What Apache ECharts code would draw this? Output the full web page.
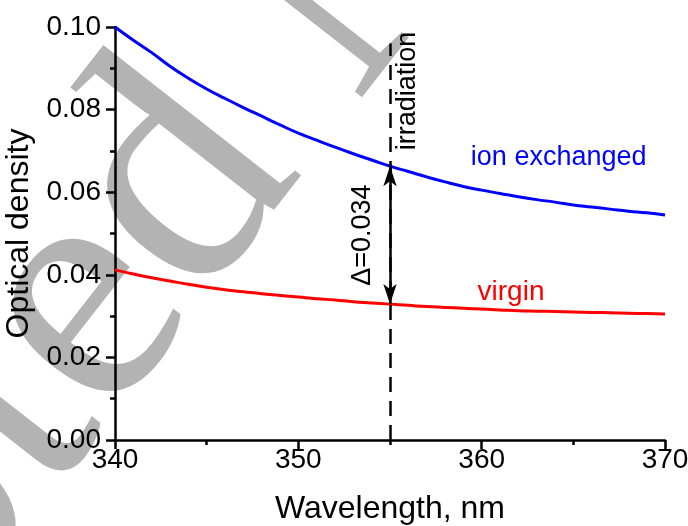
<!DOCTYPE html>
<html>
<head>
    <meta charset="utf-8">
    <title>Optical density</title>
    <script src="https://cdn.jsdelivr.net/npm/echarts@6/dist/echarts.min.js"></script>
    <style>
        html, body { margin: 0; padding: 0; background: #fff; }
        #chart { width: 688px; height: 526px; }
    </style>
</head>
<body>
<div id="chart"></div>
<script>
    // wavelength, nm
    var wavelength = [340, 341, 342, 343, 344, 345, 346, 347, 348, 349, 350,
        351, 352, 353, 354, 355, 356, 357, 358, 359, 360,
        361, 362, 363, 364, 365, 366, 367, 368, 369, 370];
    // ion exchanged (blue)
    var ionExchanged = [0.1000, 0.0968, 0.0938, 0.0905, 0.0876, 0.0850, 0.0827, 0.0805, 0.0784, 0.0763, 0.0743,
        0.0726, 0.0709, 0.0693, 0.0678, 0.0663, 0.0650, 0.0637, 0.0625, 0.0614, 0.0605,
        0.0597, 0.0589, 0.0582, 0.0576, 0.0569, 0.0564, 0.0559, 0.0554, 0.0550, 0.0545];
    // virgin (red)
    var virgin = [0.0412, 0.0402, 0.0393, 0.0385, 0.0377, 0.0370, 0.0364, 0.0359, 0.0354, 0.0350, 0.0346,
        0.0342, 0.0339, 0.0335, 0.0332, 0.0329, 0.0326, 0.0323, 0.0321, 0.0319, 0.0317,
        0.0315, 0.0313, 0.0312, 0.0311, 0.0310, 0.0309, 0.0308, 0.0307, 0.0306, 0.0305];
    var irradiationAt = 355;
    var deltaTop = 0.0663;
    var deltaBottom = 0.0329;

    function pairs(xs, ys) {
        var out = [];
        for (var i = 0; i < xs.length; i++) {
            out.push([xs[i], ys[i]]);
        }
        return out;
    }

    var myChart = echarts.init(document.getElementById('chart'));
    var font = 'Arial, "Liberation Sans", sans-serif';

    var option = {
        animation: false,
        grid: {left: 115, right: 23, top: 27, bottom: 86, outerBoundsMode: 'none', containLabel: false},
        xAxis: {
            type: 'value',
            min: 340,
            max: 370,
            interval: 10,
            name: 'Wavelength, nm',
            nameLocation: 'middle',
            nameGap: 53,
            nameTextStyle: {fontSize: 32, color: '#000', fontFamily: font},
            axisLine: {lineStyle: {color: '#000', width: 2.5}},
            axisTick: {length: 9, lineStyle: {color: '#000', width: 2.5}},
            minorTick: {show: true, splitNumber: 2, length: 5, lineStyle: {color: '#000', width: 2.5}},
            axisLabel: {fontSize: 28, color: '#000', fontFamily: font, margin: 6},
            splitLine: {show: false}
        },
        yAxis: {
            type: 'value',
            min: 0,
            max: 0.1,
            interval: 0.02,
            name: 'Optical density',
            nameLocation: 'middle',
            nameGap: 72,
            nameTextStyle: {fontSize: 32, color: '#000', fontFamily: font},
            axisLine: {lineStyle: {color: '#000', width: 2.5}},
            axisTick: {length: 9, lineStyle: {color: '#000', width: 2.5}},
            minorTick: {show: true, splitNumber: 2, length: 5, lineStyle: {color: '#000', width: 2.5}},
            axisLabel: {
                fontSize: 28, color: '#000', fontFamily: font, margin: 14,
                formatter: function (v) { return v.toFixed(2); }
            },
            splitLine: {show: false}
        },
        series: [
            {
                name: 'ion exchanged',
                type: 'line',
                smooth: true,
                showSymbol: false,
                data: pairs(wavelength, ionExchanged),
                lineStyle: {color: '#0000ff', width: 3},
                z: 3
            },
            {
                name: 'virgin',
                type: 'line',
                smooth: true,
                showSymbol: false,
                data: pairs(wavelength, virgin),
                lineStyle: {color: '#ff0000', width: 3},
                z: 3,
                markLine: {
                    silent: true,
                    animation: false,
                    label: {show: false},
                    data: [
                        [
                            {coord: [irradiationAt, 0], symbol: 'none', lineStyle: {color: '#000', width: 2.5, type: [15, 9]}},
                            {coord: [irradiationAt, 0.096], symbol: 'none'}
                        ],
                        [
                            {coord: [irradiationAt, deltaBottom], symbol: 'arrow', symbolSize: [10, 20], lineStyle: {color: '#000', width: 2.5, type: 'solid'}},
                            {coord: [irradiationAt, deltaTop], symbol: 'arrow', symbolSize: [10, 20]}
                        ]
                    ]
                }
            }
        ]
    };
    myChart.setOption(option);

    // annotation texts placed from data coordinates
    function px(x, y) { return myChart.convertToPixel({gridIndex: 0}, [x, y]); }
    var pIrr = px(irradiationAt, 0.0845);
    var pDelta = px(irradiationAt, (deltaTop + deltaBottom) / 2);
    var pIon = px(364.2, 0.0683);
    var pVirgin = px(361.6, 0.0358);

    myChart.setOption({
        graphic: [
            {
                // faint journal watermark behind the plot
                type: 'text', z: -10, silent: true,
                x: 341, y: -21, rotation: 52 * Math.PI / 180,
                style: {
                    text: 'Accepted Manuscript', fill: '#b3b3b3',
                    font: '340px "Liberation Serif", "DejaVu Serif", serif',
                    align: 'center', verticalAlign: 'middle'
                }
            },
            {
                type: 'text', x: pIrr[0] + 18, y: pIrr[1], rotation: Math.PI / 2,
                style: {text: 'irradiation', fill: '#000', font: '27px ' + font, align: 'center', verticalAlign: 'middle'}
            },
            {
                type: 'text', x: pDelta[0] - 27, y: pDelta[1], rotation: Math.PI / 2,
                style: {text: '\u0394=0.034', fill: '#000', font: '27px ' + font, align: 'center', verticalAlign: 'middle'}
            },
            {
                type: 'text', x: pIon[0], y: pIon[1],
                style: {text: 'ion exchanged', fill: '#0000ff', font: '27px ' + font, align: 'center', verticalAlign: 'middle'}
            },
            {
                type: 'text', x: pVirgin[0], y: pVirgin[1],
                style: {text: 'virgin', fill: '#ff0000', font: '28px ' + font, align: 'center', verticalAlign: 'middle'}
            }
        ]
    });
</script>
</body>
</html>
